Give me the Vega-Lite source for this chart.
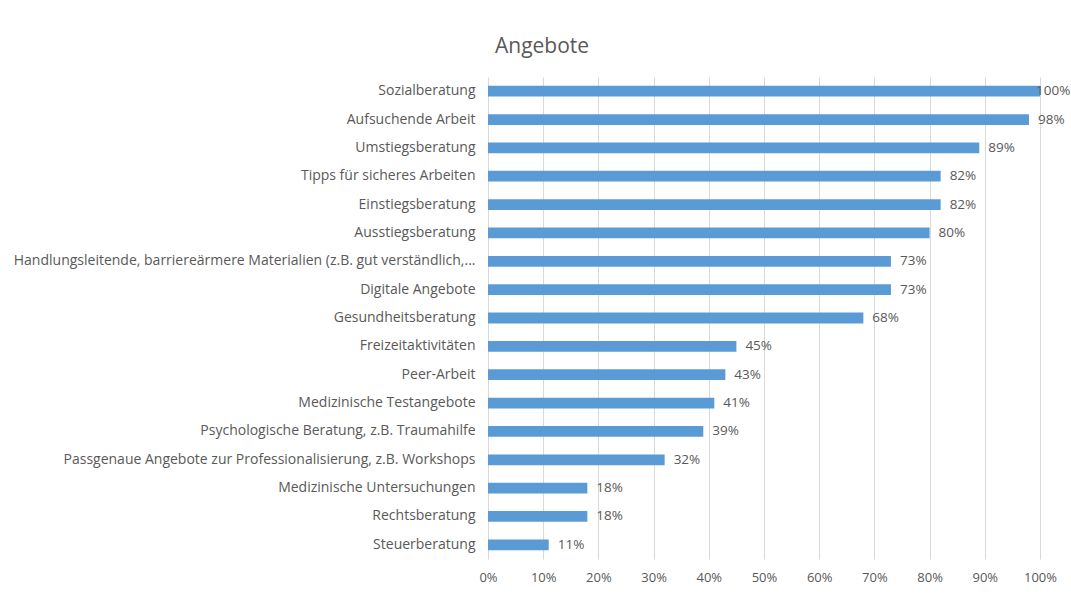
{
  "$schema": "https://vega.github.io/schema/vega-lite/v6.json",
  "width": 552,
  "height": 482,
  "autosize": {"type": "none"},
  "padding": {"left": 488, "top": 77, "right": 31, "bottom": 35},
  "background": "white",
  "title": {"text": "Angebote", "anchor": "start", "frame": "group", "dx": 7, "offset": 20, "fontSize": 21, "font": "Open Sans", "fontWeight": "normal", "color": "#595959"},
  "config": {"view": {"stroke": null}, "font": "Open Sans"},
  "data": {"values": [
    {"angebot": "Sozialberatung", "anteil": 1.00},
    {"angebot": "Aufsuchende Arbeit", "anteil": 0.98},
    {"angebot": "Umstiegsberatung", "anteil": 0.89},
    {"angebot": "Tipps für sicheres Arbeiten", "anteil": 0.82},
    {"angebot": "Einstiegsberatung", "anteil": 0.82},
    {"angebot": "Ausstiegsberatung", "anteil": 0.80},
    {"angebot": "Handlungsleitende, barriereärmere Materialien (z.B. gut verständlich,...", "anteil": 0.73},
    {"angebot": "Digitale Angebote", "anteil": 0.73},
    {"angebot": "Gesundheitsberatung", "anteil": 0.68},
    {"angebot": "Freizeitaktivitäten", "anteil": 0.45},
    {"angebot": "Peer-Arbeit", "anteil": 0.43},
    {"angebot": "Medizinische Testangebote", "anteil": 0.41},
    {"angebot": "Psychologische Beratung, z.B. Traumahilfe", "anteil": 0.39},
    {"angebot": "Passgenaue Angebote zur Professionalisierung, z.B. Workshops", "anteil": 0.32},
    {"angebot": "Medizinische Untersuchungen", "anteil": 0.18},
    {"angebot": "Rechtsberatung", "anteil": 0.18},
    {"angebot": "Steuerberatung", "anteil": 0.11}
  ]},
  "encoding": {
    "y": {"field": "angebot", "type": "nominal", "sort": null, "title": null,
      "scale": {"paddingInner": 0.62, "paddingOuter": 0.31},
      "axis": {"ticks": false, "domain": false, "labelPadding": 13, "labelFontSize": 14, "labelColor": "#595959", "labelLimit": 520, "grid": false}},
    "x": {"field": "anteil", "type": "quantitative", "title": null,
      "scale": {"domain": [0, 1]},
      "axis": {"format": ".0%", "values": [0, 0.1, 0.2, 0.3, 0.4, 0.5, 0.6, 0.7, 0.8, 0.9, 1.0], "ticks": false, "domain": false, "grid": true, "gridColor": "#d9d9d9", "gridWidth": 1, "labelFontSize": 13, "labelColor": "#595959", "labelPadding": 12, "labelFlush": false}}
  },
  "layer": [
    {"mark": {"type": "bar", "color": "#5B9BD5"}},
    {"transform": [{"filter": "datum.anteil < 1"}],
     "mark": {"type": "text", "align": "left", "dx": 9, "fontSize": 13.5, "color": "#595959"},
     "encoding": {"text": {"field": "anteil", "type": "quantitative", "format": ".0%"}}},
    {"transform": [{"filter": "datum.anteil >= 1"}],
     "mark": {"type": "text", "align": "left", "dx": -4, "fontSize": 13.5, "color": "#595959"},
     "encoding": {"text": {"field": "anteil", "type": "quantitative", "format": ".0%"}}}
  ]
}
